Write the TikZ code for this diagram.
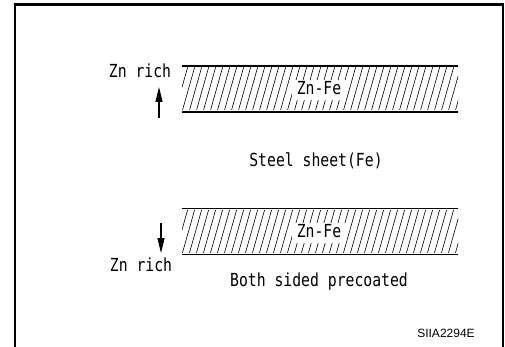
\documentclass[tikz,border=0pt]{standalone}
\usepackage{fontspec}
\setmonofont[FakeStretch=0.82]{DejaVu Sans Mono}
\setsansfont{Liberation Sans}
\usetikzlibrary{arrows.meta,positioning}

\begin{document}
\begin{tikzpicture}[x=1pt,y=-1pt,
    frame/.style={line width=2.5pt},
    sheetline/.style={line width=1.3pt},
    hatch/.style={line width=0.6pt},
    label/.style={font=\ttfamily\fontsize{18}{18}\selectfont,inner sep=1pt,
      text height=13pt,text depth=3pt},
    layer/.style={label,fill=white,inner xsep=5pt,inner ysep=2pt},
    richarrow/.style={-{Triangle[length=15pt,width=7pt]},line width=1.2pt}
  ]
  \useasboundingbox (0,0) rectangle (505,347);
  \draw[frame] (15,347) -- (15,4.5) -- (503,4.5) -- (503,347);

  % the two Zn-Fe layers
  \foreach \top/\name in {66/upper,208.5/lower} {
    \begin{scope}
      \clip (182,{\top+2}) rectangle (458,{\top+43.5});
      \foreach \x in {168,175,...,465}
        \draw[hatch] (\x,{\top+46}) -- ({\x+13},\top);
    \end{scope}
    \draw[sheetline] (182,\top) -- (458,\top);
    \draw[sheetline] (182,{\top+46}) -- (458,{\top+46});
    \node[layer] (\name) at (319,{\top+24}) {Zn-Fe};
  }

  \node[label] (richtop) at (140,73) {Zn rich};
  \coordinate (uptail) at (159,118);
  \coordinate (uptip) at (159,87);
  \draw[richarrow] (uptail) -- (uptip);

  \node[label] (steel) at (316,162) {Steel sheet(Fe)};

  \coordinate (downtail) at (161,223);
  \coordinate (downtip) at (161,253);
  \draw[richarrow] (downtail) -- (downtip);
  \node[label] (richbot) at (141,266) {Zn rich};

  \node[label] (both) at (319,281) {Both sided precoated};

  \node[font=\sffamily\fontsize{12}{12}\selectfont] (code) at (446,333) {SIIA2294E};
\end{tikzpicture}
\end{document}
